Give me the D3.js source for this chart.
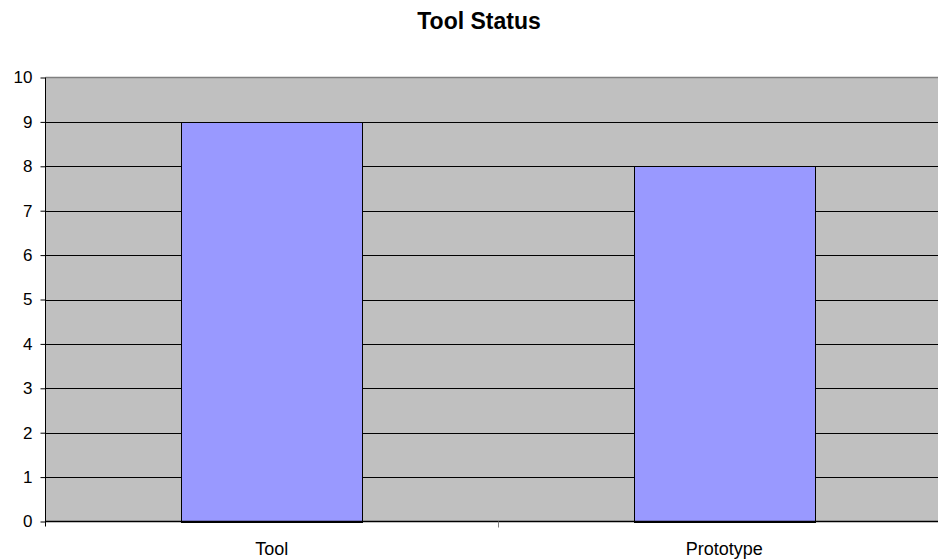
<!DOCTYPE html>
<html>
<head>
<meta charset="utf-8">
<script src="https://cdn.jsdelivr.net/npm/d3@7"></script>
<style>
  body { margin: 0; background: #fff; }
  text { font-family: "Liberation Sans", Arial, sans-serif; }
</style>
</head>
<body>
<div id="chart"></div>
<script>
var categories = ["Tool", "Prototype"];
var values = [9, 8];
var yTicks = [0, 1, 2, 3, 4, 5, 6, 7, 8, 9, 10];

(function() {
  var width = 938,
    height = 559;

  var svg = d3.select("#chart")
    .append("svg")
    .attr("width", width)
    .attr("height", height);

  // plot area runs off the right edge of the window, like the original
  var left = 45.5, right = 950.5, top = 77.5, bottom = 521.5;

  var x = d3.scaleBand()
    .domain(categories)
    .range([left, right])
    .paddingInner(0.6)
    .paddingOuter(0.3);

  var y = d3.scaleLinear()
    .domain([0, 10])
    .range([bottom, top]);

  svg.append("rect")
    .attr("x", left)
    .attr("y", top)
    .attr("width", right - left)
    .attr("height", bottom - top)
    .attr("fill", "#c0c0c0");

  // gridlines
  svg.selectAll(".grid")
    .data(yTicks.filter(function(d) { return d > 0 && d < 10; }))
    .enter().append("line")
    .attr("class", "grid")
    .attr("x1", left)
    .attr("x2", right)
    .attr("y1", function(d) { return Math.round(y(d)) + 0.5; })
    .attr("y2", function(d) { return Math.round(y(d)) + 0.5; })
    .attr("stroke", "#000")
    .attr("stroke-width", 1);

  // top border
  svg.append("line")
    .attr("x1", left).attr("x2", right)
    .attr("y1", top).attr("y2", top)
    .attr("stroke", "#808080")
    .attr("stroke-width", 1.5);

  svg.selectAll(".bar")
    .data(values)
    .enter().append("rect")
    .attr("class", "bar")
    .attr("x", function(d, i) { return Math.round(x(categories[i])) + 0.5; })
    .attr("y", function(d) { return Math.round(y(d)) + 0.5; })
    .attr("width", Math.round(x.bandwidth()))
    .attr("height", function(d) { return Math.round(y(0)) - Math.round(y(d)); })
    .attr("fill", "#9999ff")
    .attr("stroke", "#000")
    .attr("stroke-width", 1);

  // y axis
  var yAxis = d3.axisLeft(y)
    .tickValues(yTicks)
    .tickSize(5)
    .tickPadding(8);

  var gy = svg.append("g")
    .attr("transform", "translate(" + left + ",0)")
    .call(yAxis);
  gy.select(".domain").attr("stroke", "#000").attr("d", "M0," + top + "V" + (bottom + 5));
  gy.selectAll("text")
    .attr("font-size", 17)
    .attr("font-family", "Liberation Sans, Arial, sans-serif")
    .attr("fill", "#000");

  // x axis: tick between categories
  var gx = svg.append("g");
  gx.append("line")
    .attr("x1", left).attr("x2", right)
    .attr("y1", bottom).attr("y2", bottom)
    .attr("stroke", "#000")
    .attr("stroke-width", 1.5);
  var mid = (x(categories[0]) + x(categories[1]) + x.bandwidth()) / 2;
  gx.append("line")
    .attr("x1", Math.round(mid) + 0.5)
    .attr("x2", Math.round(mid) + 0.5)
    .attr("y1", bottom)
    .attr("y2", bottom + 6)
    .attr("stroke", "#808080")
    .attr("stroke-width", 1);
  gx.selectAll(".xlabel")
    .data(categories)
    .enter().append("text")
    .attr("x", function(d) { return x(d) + x.bandwidth() / 2; })
    .attr("y", 555)
    .attr("text-anchor", "middle")
    .attr("font-size", 18)
    .text(function(d) { return d; });

  svg.append("text")
    .attr("x", 479)
    .attr("y", 29)
    .attr("text-anchor", "middle")
    .attr("font-size", 23)
    .attr("font-weight", "bold")
    .text("Tool Status");
})();
</script>
</body>
</html>
